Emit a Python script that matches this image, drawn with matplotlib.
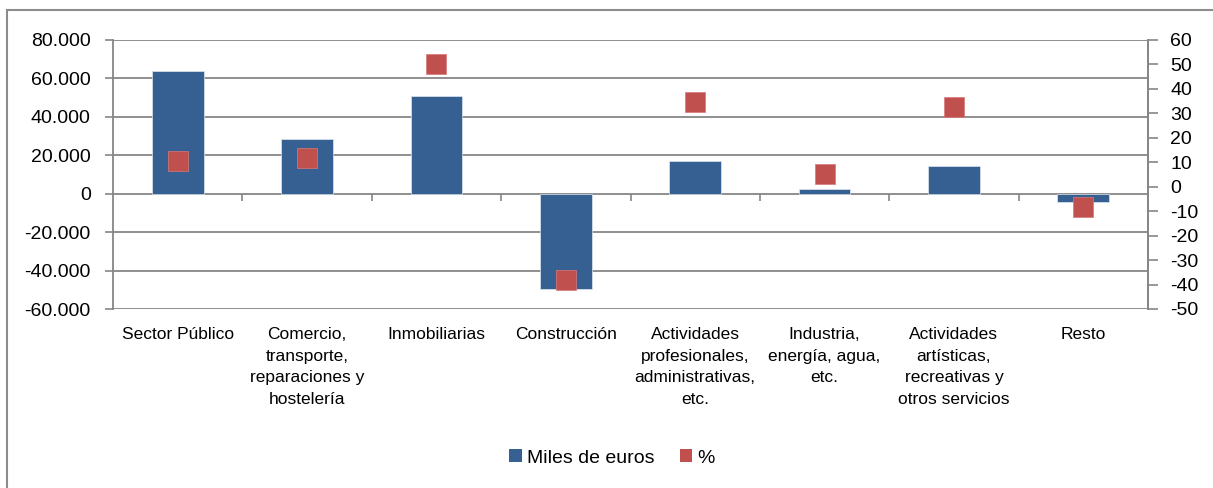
import matplotlib
matplotlib.use("Agg")
import matplotlib.pyplot as plt
from matplotlib.patches import Patch, Rectangle
from matplotlib.ticker import FuncFormatter

plt.rcParams['font.family'] = ['Liberation Sans', 'DejaVu Sans']
plt.rcParams['axes.unicode_minus'] = False

categories = ["Sector Público",
              "Comercio,\ntransporte,\nreparaciones y\nhostelería",
              "Inmobiliarias",
              "Construcción",
              "Actividades\nprofesionales,\nadministrativas,\netc.",
              "Industria,\nenergía, agua,\netc.",
              "Actividades\nartísticas,\nrecreativas y\notros servicios",
              "Resto"]
miles_euros = [63800, 28700, 51000, -49800, 17000, 2600, 14300, -4200]
pct = [10.5, 11.8, 50.0, -38.0, 34.5, 5.2, 32.6, -8.2]
left_ticks = [-60000, -40000, -20000, 0, 20000, 40000, 60000, 80000]
right_ticks = [-50, -40, -30, -20, -10, 0, 10, 20, 30, 40, 50, 60]

BAR = "#376092"
RED = "#C0504D"
GRID = "#868686"

W, H = 1213, 488
fig = plt.figure(figsize=(W / 100, H / 100), dpi=100)
# outer chart frame
fig.patches.append(Rectangle((7 / W, -0.1), 1.1, 1.1 - 10 / H, transform=fig.transFigure,
                             fill=False, edgecolor="#8c8c8c", linewidth=1.5))

ax = fig.add_axes([113 / W, 1 - 309 / H, (1148 - 113) / W, (309 - 40) / H])
x = list(range(len(categories)))
ax.bar(x, miles_euros, width=0.4, color=BAR, edgecolor="#dfe6ef", linewidth=0.5, zorder=3)
ax.set_xlim(-0.5, len(categories) - 0.5)
ax.set_ylim(left_ticks[0], left_ticks[-1])
ax.set_yticks(left_ticks)
ax.yaxis.set_major_formatter(FuncFormatter(lambda v, p: f"{int(v):,}".replace(",", ".")))
ax.grid(axis="y", color=GRID, linewidth=1.3, zorder=0)
ax.set_axisbelow(True)
for s in ["top", "bottom"]:
    ax.spines[s].set_visible(False)
for s in ["left", "right"]:
    ax.spines[s].set_color(GRID)
    ax.spines[s].set_linewidth(1.3)
ax.tick_params(axis="y", length=6, width=1.2, color=GRID, pad=10, labelsize=14)
ax.set_xticks(x)
ax.set_xticklabels(categories, fontsize=12.5, linespacing=1.55, va="top")
ax.tick_params(axis="x", length=0, pad=13)

# category boundary ticks on the zero line
zero_frac = (0 - left_ticks[0]) / (left_ticks[-1] - left_ticks[0])
sec = ax.secondary_xaxis(zero_frac)
sec.set_xticks([i + 0.5 for i in x[:-1]])
sec.set_xticklabels([])
sec.tick_params(axis="x", direction="out", length=5, width=1.2, color=GRID)
for s in sec.spines.values():
    s.set_visible(False)

ax2 = ax.twinx()
ax2.plot(x, pct, linestyle="none", marker="s", markersize=14.5, color=RED,
         markeredgecolor="#d9797a", markeredgewidth=0.5, zorder=4)
ax2.set_ylim(right_ticks[0], right_ticks[-1])
ax2.set_yticks(right_ticks)
ax2.yaxis.set_major_formatter(FuncFormatter(lambda v, p: f"{int(v)}"))
ax2.tick_params(axis="y", length=7, width=1.2, color=GRID, pad=9, labelsize=14)
for s in ["top", "bottom", "left"]:
    ax2.spines[s].set_visible(False)
ax2.spines["right"].set_color(GRID)
ax2.spines["right"].set_linewidth(1.3)

handles = [Patch(facecolor=BAR, label="Miles de euros"), Patch(facecolor=RED, label="%")]
fig.legend(handles=handles, loc="center", bbox_to_anchor=(612 / W, 1 - 458 / H), ncol=2,
           frameon=False, fontsize=14, handlelength=0.65, handleheight=0.65,
           handletextpad=0.25, columnspacing=1.3)

fig.savefig("out.png", dpi=100)
